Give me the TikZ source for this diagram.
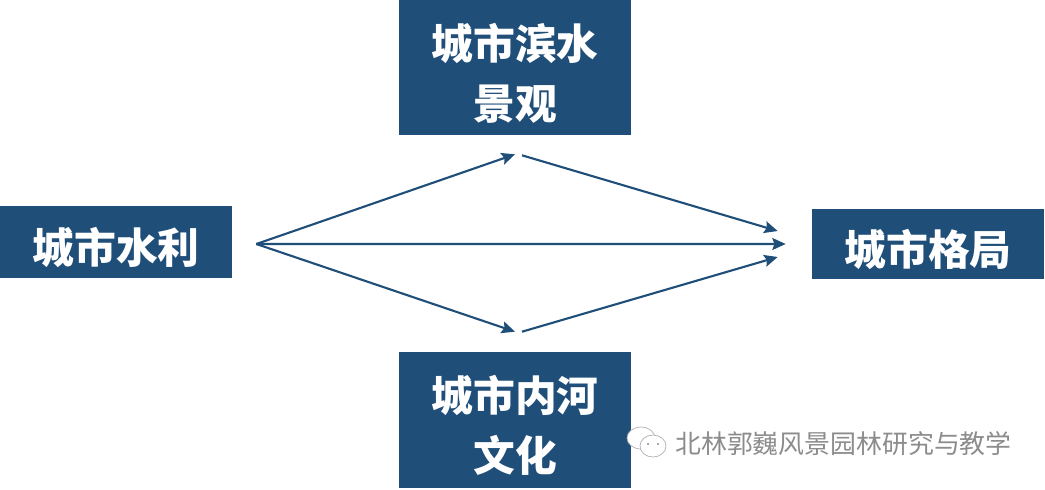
\documentclass[tikz,border=0pt]{standalone}
\usepackage{fontspec}
\usetikzlibrary{arrows.meta, positioning}
\newfontfamily\cjk{Noto Sans CJK SC}
\definecolor{boxblue}{HTML}{1F4E79}
\definecolor{markgray}{HTML}{8C8C8C}
\newcommand{\droptext}{\rule{0pt}{33.5pt}}
\tikzset{
	titlebox/.style={fill=boxblue, text=white, minimum width=5.8cm, align=center, inner sep=0pt, font=\cjk\bfseries\fontsize{29.7}{42.7}\selectfont},
	flow/.style={draw=boxblue, line width=1.5pt, -{Stealth[length=9.5pt, width=8.5pt, inset=1.5pt]}},
	bubble/.style={draw=markgray!70, fill=white, line width=0.5pt}
}
\begin{document}
\begin{tikzpicture}[x=0.025cm, y=-0.025cm]
	\useasboundingbox (0,0) rectangle (1045,489);
	% 四个方框
	\node[titlebox, minimum height=1.8cm] (shuili) at (116,242) {\droptext 城市水利};
	\node[titlebox, minimum height=3.375cm] (binshui) at (515,67.5) {\droptext 城市滨水\\景观};
	\node[titlebox, minimum height=3.4cm] (neihe) at (515,420) {\droptext 城市内河\\文化};
	\node[titlebox, minimum height=1.75cm] (geju) at (928,244) {\droptext 城市格局};
	% 箭头的端点
	\coordinate (hub) at ([xshift=0.6cm, yshift=-0.05cm]shuili.east);
	\coordinate (topin) at ([yshift=-0.475cm]binshui.south);
	\coordinate (topout) at ([xshift=0.175cm, yshift=-0.5cm]binshui.south);
	\coordinate (botin) at ([yshift=0.5cm]neihe.north);
	\coordinate (botout) at ([xshift=0.175cm, yshift=0.5cm]neihe.north);
	\coordinate (midin) at ([xshift=-0.65cm]geju.west);
	\coordinate (upin) at ([xshift=-0.85cm, yshift=0.325cm]geju.west);
	\coordinate (lowin) at ([xshift=-0.85cm, yshift=-0.325cm]geju.west);
	% 箭头
	\draw[flow] (hub) -- (topin);
	\draw[flow] (hub) -- (botin);
	\draw[flow] (hub) -- (midin);
	\draw[flow] (topout) -- (upin);
	\draw[flow] (botout) -- (lowin);
	% 水印
	\draw[bubble] (641,438) ellipse (14 and 11);
	\draw[bubble] (653,446) ellipse (13 and 11);
	\fill[markgray] (648,444) circle (1.2) (658,444) circle (1.2);
	\node[anchor=west, inner sep=0pt, text=markgray, font=\cjk\fontsize{18.4}{20}\selectfont] (mark) at (675,443.5) {北林郭巍风景园林研究与教学};
\end{tikzpicture}
\end{document}
